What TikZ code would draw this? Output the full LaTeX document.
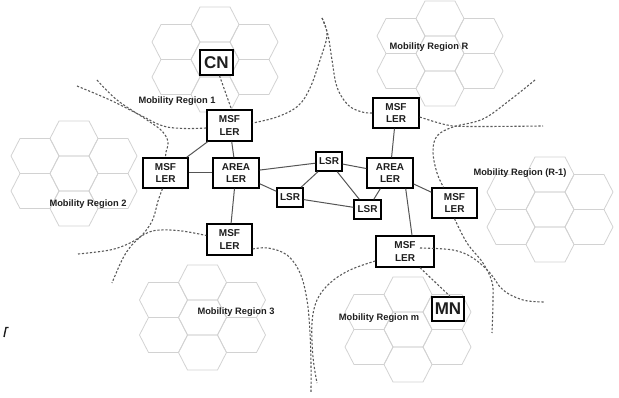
\documentclass[tikz,border=0pt]{standalone}
\usepackage{fontspec}
\setmainfont{Liberation Sans}
\definecolor{hexgray}{HTML}{D2D2D2}
\definecolor{dashgray}{HTML}{5A5A5A}
\definecolor{linkgray}{HTML}{555555}
\definecolor{inkdark}{HTML}{1E1E1E}
\begin{document}
\begin{tikzpicture}[x=1pt,y=-1pt,
  hexcell/.style={draw=hexgray,line width=0.8pt},
  boundary/.style={draw=dashgray,line width=1.1pt,dash pattern=on 2.2pt off 1.8pt},
  link/.style={draw=linkgray,line width=1pt},
  box/.style={draw=black,line width=1.4pt,fill=white,inner sep=0pt,align=center,
    text=inkdark,font=\bfseries\fontsize{10}{12.5}\selectfont},
  bigbox/.style={draw=black,line width=1.4pt,fill=white,inner sep=0pt,
    text=inkdark,font=\bfseries\fontsize{17}{20}\selectfont},
  regionlabel/.style={inner sep=0pt,text=inkdark,font=\bfseries\fontsize{9.3}{11}\selectfont}]
\useasboundingbox (0,0) rectangle (619,398);

% hexagonal cell clusters, one per mobility region
\foreach \cx/\cy in {215/59.5,440/53.5,74/173.5,550/209.5,202.5/317.5,408/329.5}{
  \foreach \dx/\dy in {0/0,0/-35,0/35,-39/-17.5,-39/17.5,39/-17.5,39/17.5}{
    \draw[hexcell,shift={(\cx+\dx,\cy+\dy)}]
      (-24,0)--(-15,17.5)--(15,17.5)--(24,0)--(15,-17.5)--(-15,-17.5)--cycle;
  }
}

% region names
\node[regionlabel] (lab1) at (177,101) {Mobility Region 1};
\node[regionlabel] (labR) at (429,47) {Mobility Region R};
\node[regionlabel] (labR1) at (520,173.5) {Mobility Region (R-1)};
\node[regionlabel] (lab2) at (88,204) {Mobility Region 2};
\node[regionlabel] (lab3) at (236,312) {Mobility Region 3};
\node[regionlabel] (labm) at (379,318) {Mobility Region m};

% routers and hosts
\node[bigbox,minimum width=33pt,minimum height=25pt] (cn) at (216.5,62.5) {CN};
\node[bigbox,minimum width=32pt,minimum height=24pt] (mn) at (448,309) {MN};
\node[box,minimum width=45pt,minimum height=31pt] (msfA) at (229.5,125.5) {MSF\\LER};
\node[box,minimum width=45pt,minimum height=30pt] (msfB) at (165.5,173) {MSF\\LER};
\node[box,minimum width=46pt,minimum height=30pt] (areaA) at (236,173) {AREA\\LER};
\node[box,minimum width=45pt,minimum height=31pt] (msfC) at (229.5,239.5) {MSF\\LER};
\node[box,minimum width=26pt,minimum height=19pt] (lsrA) at (329,161.5) {LSR};
\node[box,minimum width=26pt,minimum height=19pt] (lsrB) at (290,197.5) {LSR};
\node[box,minimum width=27pt,minimum height=19pt] (lsrC) at (367.5,209.5) {LSR};
\node[box,minimum width=46pt,minimum height=30pt] (areaB) at (390,173) {AREA\\LER};
\node[box,minimum width=46pt,minimum height=30pt] (msfD) at (396,113) {MSF\\LER};
\node[box,minimum width=45pt,minimum height=30pt] (msfE) at (454.5,203) {MSF\\LER};
\node[box,minimum width=58pt,minimum height=31pt] (msfF) at (405,251.5) {MSF\\LER};

% wired links
\draw[link] (msfA) -- (msfB);
\draw[link] (msfA) -- (areaA);
\draw[link] (msfB) -- (areaA);
\draw[link] (areaA) -- (lsrA);
\draw[link] (areaA) -- (lsrB);
\draw[link] (areaA) -- (msfC);
\draw[link] (lsrA) -- (lsrB);
\draw[link] (lsrA) -- (lsrC);
\draw[link] (lsrA) -- (areaB);
\draw[link] (lsrB) -- (lsrC);
\draw[link] (areaB) -- (lsrC);
\draw[link] (areaB) -- (msfD);
\draw[link] (areaB) -- (msfE);
\draw[link] ([xshift=-8pt]areaB.south east) -- ([xshift=7pt]msfF.north);

% free ends of the region boundaries
\coordinate (ulA) at (77,86);
\coordinate (ulB) at (97,80);
\coordinate (llA) at (112,283);
\coordinate (llB) at (78,254);
\coordinate (btA) at (311,393);
\coordinate (topC) at (322,18);
\coordinate (rtA) at (543,126);
\coordinate (rtB) at (535,80);
\coordinate (rbA) at (492,333);
\coordinate (rbB) at (545,302);
\coordinate (btB) at (317,383);

% wireless attachments
\draw[boundary] ([xshift=3pt]cn.south) -- ([xshift=2pt]msfA.north);
\draw[boundary] ([xshift=15pt]msfF.south) -- ([xshift=2pt]mn.north);

% region boundaries
\draw[boundary] plot[smooth,tension=0.6] coordinates {(ulA) (110,100) (140,115) (163,126) (185,128.5) ([yshift=-2.5pt]msfA.west)};
\draw[boundary] plot[smooth,tension=0.6] coordinates {(ulB) (117,100) (147,120) (162,131) (168,142) (166,152) (msfB.north)};
\draw[boundary] plot[smooth,tension=0.6] coordinates {([xshift=-3pt]msfB.south) (158,201) (153,219) (144,233) (131,246) (122,260) (llA)};
\draw[boundary] plot[smooth,tension=0.6] coordinates {(llB) (110,250) (130,243) (147,233) (160,230) (182,231) ([yshift=4pt]msfC.west)};
\draw[boundary] plot[smooth,tension=0.6] coordinates {([yshift=-9.5pt]msfC.east) (268,248) (287,255) (300,273) (307,300) (310,333) (311,365) (btA)};
\draw[boundary] plot[smooth,tension=0.6] coordinates {(topC) (327,35) (320,60) (310,88) (298,106) (277,117) ([yshift=2.5pt]msfA.east)};
\draw[boundary] plot[smooth,tension=0.6] coordinates {(topC) (328,35) (332,60) (337,87) (348,105) (362,112) (msfD.west)};
\draw[boundary] plot[smooth,tension=0.6] coordinates {([yshift=-4pt]msfD.east) (447,125) (470,126.5) (rtA)};
\draw[boundary] plot[smooth,tension=0.6] coordinates {(rtB) (510,100) (483,119) (453,127) (437,136) (433,152) (437,173) ([xshift=-11pt]msfE.north)};
\draw[boundary] plot[smooth,tension=0.6] coordinates {(msfE.south) (467,243) (483,263) (492,282) (493,300) (rbA)};
\draw[boundary] plot[smooth,tension=0.6] coordinates {([xshift=15pt,yshift=3.5pt]msfF.center) (453,250) (473,258) (490,273) (503,290) (523,300) (rbB)};
\draw[boundary] plot[smooth,tension=0.6] coordinates {([yshift=-9.5pt]msfF.west) (350,270) (330,283) (317,300) (312,323) (313,357) (btB)};

% small stray mark at the left edge
\draw[inkdark,line width=1.4pt] (4,337) -- (6,327.5) -- (8.5,327.5);
\end{tikzpicture}
\end{document}
